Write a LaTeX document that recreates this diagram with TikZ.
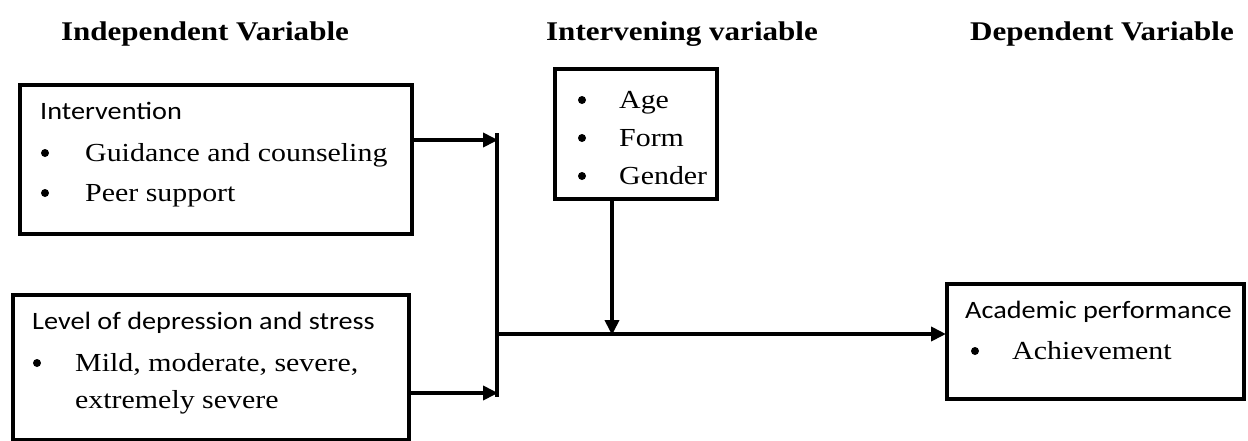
\documentclass[tikz,border=0pt]{standalone}
\usepackage{fontspec}
\setmainfont{Liberation Serif}[FakeStretch=1.15]
\newfontfamily\calfont{Carlito}[FakeStretch=1.13]
\usetikzlibrary{arrows.meta}
\tikzset{
  box/.style={draw, line width=3.5pt, inner sep=0pt, anchor=north west},
  hdr/.style={anchor=base, inner sep=0pt, font=\fontsize{27}{30}\selectfont\bfseries},
  ttl/.style={anchor=base west, inner sep=0pt, font=\fontsize{25}{30}\selectfont\calfont},
  itm/.style={anchor=base west, inner sep=0pt, font=\fontsize{26}{30}\selectfont},
  bul/.style={circle, fill, inner sep=0pt, minimum size=8pt},
  conn/.style={line width=4pt},
  arr/.style={conn, -{Triangle[length=15pt,width=14pt]}, shorten >=-1pt},
}
\begin{document}
\begin{tikzpicture}[x=1pt,y=-1pt]
\useasboundingbox (0,0) rectangle (1248,440);
% headers
\node[hdr] (h1) at (205,40) {Independent Variable};
\node[hdr] (h2) at (682,40) {Intervening variable};
\node[hdr] (h3) at (1102,40) {Dependent Variable};
% box 1
\node[box, minimum width=392pt, minimum height=149pt] (b1) at (18,83) {};
\node[ttl] (t1) at (40,119) {Intervention};
\node[bul] (d11) at (45,153) {};
\node[itm] (i11) at (85,161) {Guidance and counseling};
\node[bul] (d12) at (45,193) {};
\node[itm] (i12) at (85,201) {Peer support};
% box 2
\node[box, minimum width=396pt, minimum height=145pt] (b2) at (11,293) {};
\node[ttl] (t2) at (32,329) {Level of depression and stress};
\node[bul] (d21) at (37,363) {};
\node[itm] (i21) at (75,371) {Mild, moderate, severe,};
\node[itm] (i22) at (75,408) {extremely severe};
% box 3
\node[box, minimum width=162pt, minimum height=130pt] (b3) at (553,67) {};
\node[bul] (d31) at (582,100) {};
\node[itm] (i31) at (619,108) {Age};
\node[bul] (d32) at (582,138) {};
\node[itm] (i32) at (619,146) {Form};
\node[bul] (d33) at (582,176) {};
\node[itm] (i33) at (619,184) {Gender};
% box 4
\node[box, minimum width=297pt, minimum height=115pt] (b4) at (945,282) {};
\node[ttl] (t4) at (965,318) {Academic performance};
\node[bul] (d41) at (975,351) {};
\node[itm] (i41) at (1012,359) {Achievement};
% connectors
\coordinate (barT) at (497,133);
\coordinate (barB) at (497,397);
\coordinate (a1) at (0,140);
\coordinate (a2) at (0,393);
\coordinate (m) at (0,334);
\coordinate (dx) at (612,0);
\draw[conn] (barT) -- (barB);
\draw[arr] (b1.east |- a1) -- (barT |- a1);
\draw[arr] (b2.east |- a2) -- (barT |- a2);
\draw[arr] (barT |- m) -- (b4.west |- m);
\draw[arr] (b3.south -| dx) -- (dx |- m);
\end{tikzpicture}
\end{document}
